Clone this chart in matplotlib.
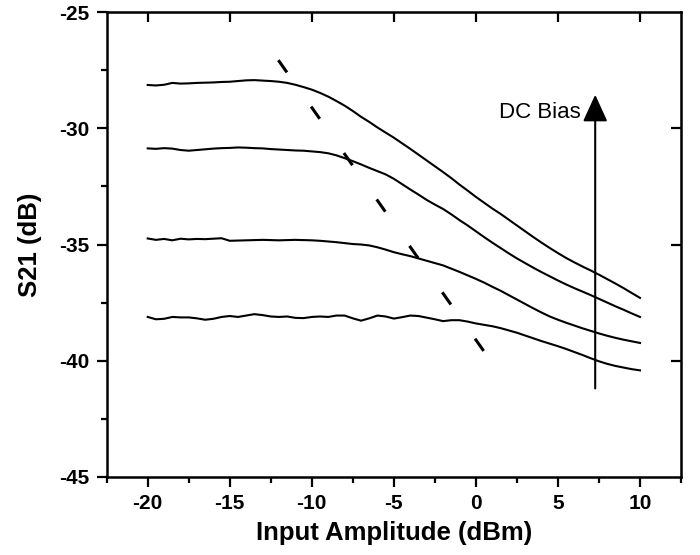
import matplotlib
matplotlib.use("Agg")
import matplotlib.pyplot as plt
from matplotlib.ticker import MultipleLocator, NullLocator

plt.rcParams['font.family'] = ['Liberation Sans', 'DejaVu Sans']
plt.rcParams['axes.unicode_minus'] = False

# Input amplitude (dBm), 0.5 dB steps
x = [-20, -19.5, -19, -18.5, -18, -17.5, -17, -16.5, -16, -15.5,
     -15, -14.5, -14, -13.5, -13, -12.5, -12, -11.5, -11, -10.5,
     -10, -9.5, -9, -8.5, -8, -7.5, -7, -6.5, -6, -5.5,
     -5, -4.5, -4, -3.5, -3, -2.5, -2, -1.5, -1, -0.5,
     0, 0.5, 1, 1.5, 2, 2.5, 3, 3.5, 4, 4.5,
     5, 5.5, 6, 6.5, 7, 7.5, 8, 8.5, 9, 9.5, 10]

# S21 (dB) for four DC bias levels (highest bias on top)
s21_bias4 = [-28.13, -28.15, -28.12, -28.04, -28.07, -28.06, -28.04, -28.03, -28.02, -28.00,
             -27.99, -27.96, -27.93, -27.92, -27.94, -27.96, -27.99, -28.04, -28.12, -28.22,
             -28.33, -28.47, -28.63, -28.82, -29.02, -29.25, -29.50, -29.72, -29.96, -30.18,
             -30.40, -30.64, -30.88, -31.13, -31.38, -31.63, -31.88, -32.14, -32.42, -32.68,
             -32.95, -33.20, -33.45, -33.68, -33.93, -34.18, -34.43, -34.68, -34.92, -35.15,
             -35.37, -35.58, -35.77, -35.95, -36.12, -36.30, -36.49, -36.68, -36.88, -37.09, -37.30]

s21_bias3 = [-30.86, -30.88, -30.85, -30.87, -30.93, -30.96, -30.93, -30.90, -30.87, -30.85,
             -30.84, -30.82, -30.83, -30.85, -30.86, -30.89, -30.91, -30.93, -30.95, -30.96,
             -30.99, -31.02, -31.07, -31.16, -31.28, -31.41, -31.55, -31.70, -31.84, -31.98,
             -32.17, -32.40, -32.63, -32.85, -33.08, -33.28, -33.47, -33.70, -33.95, -34.18,
             -34.43, -34.68, -34.92, -35.15, -35.38, -35.60, -35.80, -36.00, -36.19, -36.37,
             -36.55, -36.72, -36.88, -37.03, -37.18, -37.34, -37.50, -37.66, -37.81, -37.97, -38.12]

s21_bias2 = [-34.74, -34.80, -34.76, -34.82, -34.75, -34.78, -34.76, -34.77, -34.75, -34.73,
             -34.84, -34.83, -34.82, -34.81, -34.80, -34.81, -34.82, -34.81, -34.80, -34.81,
             -34.82, -34.84, -34.87, -34.90, -34.94, -34.98, -35.00, -35.04, -35.12, -35.22,
             -35.33, -35.42, -35.50, -35.60, -35.70, -35.80, -35.90, -36.04, -36.18, -36.33,
             -36.48, -36.64, -36.82, -36.99, -37.18, -37.37, -37.56, -37.75, -37.93, -38.10,
             -38.24, -38.37, -38.49, -38.61, -38.72, -38.83, -38.93, -39.02, -39.10, -39.17, -39.24]

s21_bias1 = [-38.12, -38.22, -38.20, -38.12, -38.14, -38.14, -38.18, -38.24, -38.20, -38.12,
             -38.08, -38.12, -38.06, -38.00, -38.04, -38.10, -38.12, -38.10, -38.16, -38.17,
             -38.12, -38.10, -38.12, -38.06, -38.06, -38.18, -38.28, -38.18, -38.06, -38.10,
             -38.19, -38.13, -38.06, -38.08, -38.15, -38.22, -38.30, -38.26, -38.26, -38.32,
             -38.40, -38.46, -38.52, -38.60, -38.70, -38.80, -38.92, -39.04, -39.16, -39.27,
             -39.38, -39.50, -39.63, -39.76, -39.90, -40.03, -40.14, -40.23, -40.30, -40.37, -40.42]

# dashed guide line (start / end)
guide_x = [-12.04, 0.49]
guide_y = [-27.06, -39.6]

# DC bias arrow
arrow_x = 7.27
arrow_y = [-41.2, -28.55]

fig = plt.figure(figsize=(7, 5.55), dpi=100)
ax = fig.add_axes([0.1524, 0.1411, 0.8205, 0.8367])

for s21 in [s21_bias1, s21_bias2, s21_bias3, s21_bias4]:
    ax.plot(x, s21, color='black', lw=1.5)

ax.plot(guide_x, guide_y, color='black', lw=2.2, linestyle=(0, (4.9, 13.7)),
        dash_capstyle='butt')

ax.annotate('', xy=(arrow_x, arrow_y[1]), xytext=(arrow_x, arrow_y[0]),
            arrowprops=dict(arrowstyle='-|>,head_length=0.83,head_width=0.38',
                            color='black', lw=1.5, mutation_scale=20,
                            shrinkA=0, shrinkB=0))
ax.text(6.4, -29.3, 'DC Bias', ha='right', va='center', fontsize=16)

ax.set_xlim(-22.5, 12.5)
ax.set_ylim(-45, -25)
ax.xaxis.set_major_locator(MultipleLocator(5))
ax.xaxis.set_minor_locator(MultipleLocator(2.5))
ax.yaxis.set_major_locator(MultipleLocator(5))
ax.yaxis.set_minor_locator(MultipleLocator(2.5))
ax.set_xticks([-20, -15, -10, -5, 0, 5, 10])

for sp in ax.spines.values():
    sp.set_linewidth(1.8)

ax.tick_params(which='major', direction='out', length=7.5, width=1.6, pad=5,
               labelsize=15)
ax.tick_params(which='minor', direction='out', length=4, width=1.6)
for lab in ax.get_xticklabels() + ax.get_yticklabels():
    lab.set_fontweight('bold')

# inward ticks on top and right (major only)
axt = ax.secondary_xaxis('top')
axt.set_xticks([-20, -15, -10, -5, 0, 5, 10])
axt.xaxis.set_minor_locator(NullLocator())
axt.tick_params(direction='in', length=7.5, width=1.6, labeltop=False)
axr = ax.secondary_yaxis('right')
axr.set_yticks([-40, -35, -30])
axr.yaxis.set_minor_locator(NullLocator())
axr.tick_params(direction='in', length=7.5, width=1.6, labelright=False)

ax.set_xlabel('Input Amplitude (dBm)', fontsize=18.5, fontweight='bold', labelpad=6)
ax.set_ylabel('S21 (dB)', fontsize=18.5, fontweight='bold', labelpad=12)

fig.savefig('out.png', dpi=100)
